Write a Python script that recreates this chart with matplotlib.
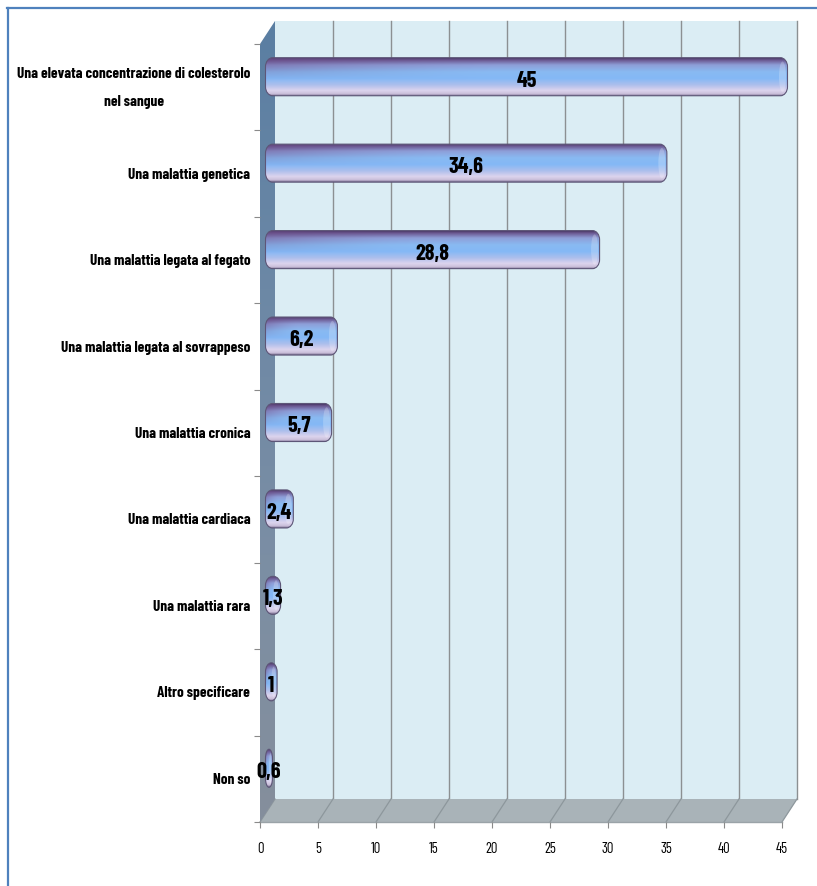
import numpy as np
import matplotlib
matplotlib.use("Agg")
import matplotlib.pyplot as plt
from matplotlib.path import Path
from matplotlib.patches import PathPatch, Polygon, Ellipse
from matplotlib.transforms import ScaledTranslation
from matplotlib.colors import to_rgb
from matplotlib.lines import Line2D

categories = [
    "Una elevata concentrazione di colesterolo\nnel sangue",
    "Una malattia genetica",
    "Una malattia legata al fegato",
    "Una malattia legata al sovrappeso",
    "Una malattia cronica",
    "Una malattia cardiaca",
    "Una malattia rara",
    "Altro specificare",
    "Non so",
]
values = [45, 34.6, 28.8, 6.2, 5.7, 2.4, 1.3, 1, 0.6]
x_ticks = [0, 5, 10, 15, 20, 25, 30, 35, 40, 45]

FONT = ["Barlow Condensed", "DejaVu Sans"]
plt.rcParams["font.family"] = FONT

W, H, DPI = 817, 887, 100
fig = plt.figure(figsize=(W / DPI, H / DPI), dpi=DPI)
fig.patch.set_facecolor("white")

# front plane of the 3D box
ax_l, ax_r, ax_t, ax_b = 260, 782, 45, 823
ax = fig.add_axes([ax_l / W, 1 - ax_b / H, (ax_r - ax_l) / W, (ax_b - ax_t) / H])
n = len(categories)
ax.set_xlim(0, 45)
ax.set_ylim(n - 0.5, -0.5)
ax.patch.set_visible(False)
for s in ax.spines.values():
    s.set_visible(False)

# depth of the box, in data units
px_x = 45 / (ax_r - ax_l)
px_y = n / (ax_b - ax_t)
DX = 15 * px_x
DY = 23 * px_y
y0, y1 = -0.5, n - 0.5

# back wall
back = Polygon([(DX, y0 - DY), (45 + DX, y0 - DY), (45 + DX, y1 - DY), (DX, y1 - DY)],
               closed=True, facecolor="#dbedf4", edgecolor="none", zorder=0, clip_on=False)
ax.add_patch(back)
for xv in x_ticks[1:]:
    ax.add_line(Line2D([xv + DX, xv + DX], [y0 - DY, y1 - DY], color="#8c9092",
                       lw=1.0, zorder=0.5, clip_on=False))

# floor
floor = Polygon([(0, y1), (45, y1), (45 + DX, y1 - DY), (DX, y1 - DY)],
                closed=True, facecolor="#a9b3b8", edgecolor="none", zorder=0.6, clip_on=False)
ax.add_patch(floor)
for xv in x_ticks:
    ax.add_line(Line2D([xv, xv + DX], [y1, y1 - DY], color="#8d979c", lw=0.9,
                       zorder=0.7, clip_on=False))
ax.add_line(Line2D([0, 45], [y1, y1], color="#9aa3a8", lw=1.0, zorder=0.7, clip_on=False))

# side wall with vertical gradient
side_poly = Polygon([(0, y0), (DX, y0 - DY), (DX, y1 - DY), (0, y1)], closed=True,
                    facecolor="none", edgecolor="none", transform=ax.transData)
side_cols = np.array([to_rgb(c) for c in ["#5a7ea2", "#6c88a6", "#7b8ea4", "#858f9c"]])
t = np.linspace(0, 1, 200)
grad = np.stack([np.interp(t, np.linspace(0, 1, len(side_cols)), side_cols[:, k]) for k in range(3)], axis=-1)
side_img = ax.imshow(grad[:, None, :], extent=(0, DX, y1, y0 - DY), aspect="auto",
                     interpolation="bilinear", zorder=0.8)
side_img.set_clip_box(fig.bbox)
side_img.set_clip_path(side_poly)
ax.set_xlim(0, 45)
ax.set_ylim(n - 0.5, -0.5)

# cylinder bars at mid-depth
mid = ax.transData + ScaledTranslation(5.5 / DPI, 10.5 / DPI, fig.dpi_scale_trans)
lab_tr = ax.transData + ScaledTranslation(5.5 / DPI, 7.5 / DPI, fig.dpi_scale_trans)
bar_h = 0.44


def rounded_rect(x0, x1, yc, h, rx_px=7, ry_px=9):
    w = x1 - x0
    rx = min(rx_px * px_x, w / 2)
    ry = min(ry_px * px_y, h / 2)
    ya, yb = yc - h / 2, yc + h / 2
    k = 0.5523
    verts = [
        (x0 + rx, ya), (x1 - rx, ya),
        (x1 - rx + k * rx, ya), (x1, ya + ry - k * ry), (x1, ya + ry),
        (x1, yb - ry),
        (x1, yb - ry + k * ry), (x1 - rx + k * rx, yb), (x1 - rx, yb),
        (x0 + rx, yb),
        (x0 + rx - k * rx, yb), (x0, yb - ry + k * ry), (x0, yb - ry),
        (x0, ya + ry),
        (x0, ya + ry - k * ry), (x0 + rx - k * rx, ya), (x0 + rx, ya),
        (x0 + rx, ya),
    ]
    codes = [Path.MOVETO, Path.LINETO,
             Path.CURVE4, Path.CURVE4, Path.CURVE4,
             Path.LINETO,
             Path.CURVE4, Path.CURVE4, Path.CURVE4,
             Path.LINETO,
             Path.CURVE4, Path.CURVE4, Path.CURVE4,
             Path.LINETO,
             Path.CURVE4, Path.CURVE4, Path.CURVE4,
             Path.CLOSEPOLY]
    return Path(verts, codes)


stops = [0.0, 0.07, 0.2, 0.38, 0.55, 0.72, 0.86, 0.95, 1.0]
stop_cols = np.array([to_rgb(c) for c in ["#3d2c58", "#6a568f", "#8e9ed8", "#89baf2", "#84b8f6",
                                          "#aebfec", "#dcd4ee", "#cbbfda", "#7a6f92"]])
tv = np.linspace(0, 1, 80)
vprof = np.stack([np.interp(tv, stops, stop_cols[:, k]) for k in range(3)], axis=-1)
purple = np.array(to_rgb("#6a4a86"))
xs = np.linspace(0, 1, 120)
hw = np.clip(1 - xs / 0.45, 0, 1) ** 1.5 * 0.6
vw = np.clip(1 - tv / 0.6, 0, 1)
wmix = vw[:, None] * hw[None, :]
bar_img = vprof[:, None, :] * (1 - wmix[..., None]) + purple[None, None, :] * wmix[..., None]

for i, v in enumerate(values):
    path = rounded_rect(0, v, i, bar_h)
    clip = PathPatch(path, transform=mid, facecolor="none", edgecolor="none")
    im = ax.imshow(bar_img, extent=(0, v, i + bar_h / 2, i - bar_h / 2), aspect="auto",
                   interpolation="bilinear", transform=mid, zorder=2)
    im.set_clip_box(fig.bbox)
    im.set_clip_path(clip)
    # soft light reflex on the rounded end
    hl_w = min(7 * px_x, v * 0.4)
    hl = Ellipse((v - min(5 * px_x, v * 0.3), i), hl_w, bar_h * 0.8, transform=mid,
                 facecolor="white", edgecolor="none", alpha=0.22, zorder=2.05)
    ax.add_patch(hl)
    hl.set_clip_box(fig.bbox)
    hl.set_clip_path(clip)
    ax.add_patch(PathPatch(path, transform=mid, facecolor="none", edgecolor="#5d5677",
                           lw=0.8, zorder=2.1, clip_on=False))
    ax.text(v / 2, i, f"{v:g}".replace(".", ","), transform=lab_tr, ha="center", va="center",
            fontsize=16, fontweight="bold", color="black", zorder=3, family=FONT)

ax.set_xlim(0, 45)
ax.set_ylim(n - 0.5, -0.5)

# axes ticks and labels
ax.set_xticks(x_ticks)
ax.set_xticklabels([str(v) for v in x_ticks], fontsize=10.5, family=FONT)
ax.tick_params(axis="x", direction="out", length=4, width=0.8, color="#8a8a8a", pad=10)
ax.set_yticks(range(n))
ax.set_yticklabels(categories, fontsize=11, fontweight="bold", family=FONT,
                   multialignment="center", linespacing=2.3)
for lab in ax.get_yticklabels():
    lab.set_verticalalignment("center")
ax.set_yticks(np.arange(n + 1) - 0.5, minor=True)
ax.tick_params(axis="y", which="major", length=0, pad=7)
ax.tick_params(axis="y", which="minor", direction="out", length=4, width=0.8, color="#8a8a8a")

# outer frame
fig.add_artist(Line2D([7.5 / W, 7.5 / W], [0, 1 - 9 / H], color="#4f81bd", lw=1.6))
fig.add_artist(Line2D([7 / W, 1], [1 - 9 / H, 1 - 9 / H], color="#4f81bd", lw=1.6))

fig.savefig("out.png", dpi=DPI)
